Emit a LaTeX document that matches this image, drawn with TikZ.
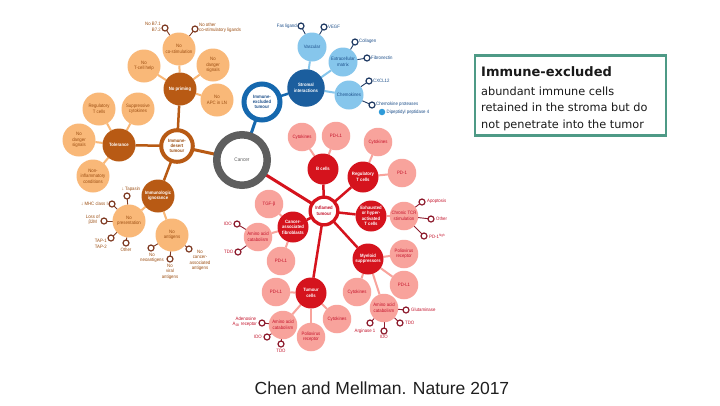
\documentclass[tikz,border=0pt]{standalone}
\usepackage{fontspec}
\setmainfont{Liberation Sans}
\newfontfamily\dfont[FakeStretch=0.9]{Liberation Sans}
\newfontfamily\boxfont{DejaVu Sans}
\usetikzlibrary{backgrounds}
\definecolor{dorange}{HTML}{B85A14}
\definecolor{lorange}{HTML}{F9B878}
\definecolor{torange}{HTML}{9C4E12}
\definecolor{rorange}{HTML}{7E3A22}
\definecolor{dblue}{HTML}{1B5E9E}
\definecolor{eblue}{HTML}{1568AE}
\definecolor{lblue}{HTML}{86C6EC}
\definecolor{tblue}{HTML}{1D4F8A}
\definecolor{rblue}{HTML}{1F3A63}
\definecolor{dotblue}{HTML}{2E9BD9}
\definecolor{dred}{HTML}{D5131D}
\definecolor{lred}{HTML}{F8A39C}
\definecolor{tred}{HTML}{C4122A}
\definecolor{rred}{HTML}{8C1A2C}
\definecolor{cgray}{HTML}{5E5E5E}
\definecolor{boxteal}{HTML}{4E9A86}
\begin{document}
\begin{tikzpicture}[x=1pt,y=-1pt,
  every node/.style={font=\dfont\fontsize{4.8}{5.5}\selectfont},
  base/.style={circle,inner sep=0pt,outer sep=0pt,align=center},
  bfnt/.style={font=\dfont\bfseries\fontsize{4.7}{5.4}\selectfont},
  hubO/.style={base,bfnt,fill=dorange,text=white,minimum size=33},
  leafO/.style={base,fill=lorange,text=torange,minimum size=33},
  hubB/.style={base,bfnt,fill=dblue,text=white,minimum size=37.5},
  leafB/.style={base,fill=lblue,text=tblue,minimum size=29},
  hubR/.style={base,bfnt,fill=dred,text=white,minimum size=31},
  leafR/.style={base,fill=lred,text=tred,minimum size=28.5},
  ringO/.style={base,draw=rorange,line width=1.2,fill=white,minimum size=6},
  ringB/.style={base,draw=rblue,line width=1.2,fill=white,minimum size=6},
  ringR/.style={base,draw=rred,line width=1.2,fill=white,minimum size=6},
  lblO/.style={inner sep=0pt,text=torange},
  lblB/.style={inner sep=0pt,text=tblue},
  lblR/.style={inner sep=0pt,text=tred},
  main/.style={line width=3},
  sub/.style={line width=2.5},
  leafe/.style={line width=2},
  tiny/.style={line width=0.9}
]
\useasboundingbox (0,0) rectangle (720,405);

% ---------- centres ----------
\node[base,draw=cgray,line width=7.5,fill=white,minimum size=50.5,text=cgray,font=\dfont\fontsize{5.2}{6}\selectfont] (cancer) at (242,160) {Cancer};
\node[base,bfnt,draw=dorange,line width=4,fill=white,minimum size=31.6,text=torange] (desert) at (177,146) {Immune-\\desert\\tumour};
\node[base,bfnt,draw=eblue,line width=5,fill=white,minimum size=36,text=tblue] (excl) at (262,102) {Immune-\\excluded\\tumour};
\node[base,bfnt,draw=dred,line width=3.3,fill=white,minimum size=27.7,text=tred] (infl) at (324,211) {Inflamed\\tumour};

% ---------- orange ----------
\node[hubO] (noprim) at (180,89) {No priming};
\node[leafO] (nocost) at (179,49) {No\\co-stimulation};
\node[leafO] (notcell) at (144,66) {No\\T-cell help};
\node[leafO] (nodang1) at (213,65) {No\\danger\\signals};
\node[leafO] (noapc) at (217,100) {No\\APC in LN};
\node[hubO] (toler) at (119,145) {Tolerance};
\node[leafO] (regt) at (99,109) {Regulatory\\T cells};
\node[leafO] (suppc) at (138,109) {Suppressive\\cytokines};
\node[leafO] (nodang2) at (79,140) {No\\danger\\signals};
\node[leafO] (noninf) at (93,176) {Non-\\inflammatory\\conditions};
\node[hubO] (ignor) at (158,196) {Immunologic\\ignorance};
\node[leafO] (nopres) at (129,221) {No\\presentation};
\node[leafO] (noant) at (172,235) {No\\antigens};

\node[ringO] (rb7) at (165,28) {};
\node[ringO] (rcost) at (195,29) {};
\node[ringO] (rtapa) at (127,196) {};
\node[ringO] (rmhc) at (112,204) {};
\node[ringO] (rb2m) at (104,221) {};
\node[ringO] (rtap) at (111,238) {};
\node[ringO] (roth) at (126,243) {};
\node[ringO] (rneo) at (151,248) {};
\node[ringO] (rvir) at (170,259) {};
\node[ringO] (rcaa) at (189,249) {};

\node[lblO,anchor=east,align=right] (lb7) at (161,27) {No B7.1\\B7.2};
\node[lblO,anchor=west,align=left] (lcost) at (199,28) {No other\\co-stimulatory ligands};
\node[lblO,anchor=south] (ltapa) at (131,192) {↓ Tapasin};
\node[lblO,anchor=east] (lmhc) at (108,204) {↓ MHC class I};
\node[lblO,anchor=east,align=center] (lb2m) at (100,220) {Loss of\\β2M};
\node[lblO,anchor=east,align=center] (ltap) at (107,244) {TAP-1\\TAP-2};
\node[lblO,anchor=north] (loth) at (126,248) {Other};
\node[lblO,anchor=north,align=center] (lneo) at (152,252.5) {No\\neoantigens};
\node[lblO,anchor=north,align=center] (lvir) at (170,263.5) {No\\viral\\antigens};
\node[lblO,anchor=north,align=center] (lcaa) at (200,249.5) {No\\cancer-\\associated\\antigens};

% ---------- blue ----------
\node[hubB] (strom) at (306,88) {Stromal\\interactions};
\node[leafB] (vasc) at (312,47) {Vascular};
\node[leafB] (ecm) at (343,62) {Extracellular\\matrix};
\node[leafB] (chem) at (349,95) {Chemokines};

\node[ringB] (rfas) at (301,26) {};
\node[ringB] (rvegf) at (324,27) {};
\node[ringB] (rcoll) at (355,42) {};
\node[ringB] (rfib) at (367,58) {};
\node[ringB] (rcxc) at (369,81) {};
\node[ringB] (rprot) at (372,105) {};
\node[base,fill=dotblue,minimum size=6.5] (ddpp) at (382,112) {};

\node[lblB,anchor=east] (lfas) at (297,26) {Fas ligand};
\node[lblB,anchor=west] (lvegf) at (328,27) {VEGF};
\node[lblB,anchor=west] (lcoll) at (359,41.5) {Collagen};
\node[lblB,anchor=west] (lfib) at (371,57.5) {Fibronectin};
\node[lblB,anchor=west] (lcxc) at (373,81) {CXCL12};
\node[lblB,anchor=west] (lprot) at (376,104.5) {Chemokine proteases};
\node[lblB,anchor=west] (lddp) at (386.5,112) {Dipeptidyl peptidase 4};

% ---------- red ----------
\node[hubR] (bcell) at (323,169) {B cells};
\node[hubR] (treg) at (363,177) {Regulatory\\T cells};
\node[hubR] (exh) at (371,216) {Exhausted\\or hyper-\\activated\\T cells};
\node[hubR] (myel) at (368,259) {Myeloid\\suppressors};
\node[hubR] (tum) at (311,293) {Tumour\\cells};
\node[hubR] (caf) at (293,227) {Cancer-\\associated\\fibroblasts};

\node[leafR] (bcyt) at (302,137) {Cytokines};
\node[leafR] (bpdl) at (336,136) {PD-L1};
\node[leafR] (tcyt) at (378,142) {Cytokines};
\node[leafR] (tpd1) at (402,173) {PD-1};
\node[leafR] (etcr) at (404,216) {Chronic TCR\\stimulation};
\node[leafR] (mpvr) at (404,254) {Poliovirus\\receptor};
\node[leafR] (mpdl) at (404,285) {PD-L1};
\node[leafR] (mcyt) at (357,292) {Cytokines};
\node[leafR] (maa) at (384,308) {Amino acid\\catabolism};
\node[leafR] (tpdl) at (276,292) {PD-L1};
\node[leafR] (taa) at (283,325) {Amino acid\\catabolism};
\node[leafR] (tpvr) at (311,337) {Poliovirus\\receptor};
\node[leafR] (tcy2) at (337,319) {Cytokines};
\node[leafR] (ctgf) at (269,204) {TGF-β};
\node[leafR] (caa) at (258,237) {Amino acid\\catabolism};
\node[leafR] (cpdl) at (281,261) {PD-L1};

\node[ringR] (rapo) at (422,202) {};
\node[ringR] (roth2) at (431,219) {};
\node[ringR] (rpdh) at (424,236) {};
\node[ringR] (rglu) at (406,310) {};
\node[ringR] (rtdo1) at (400,323) {};
\node[ringR] (rido1) at (384,331) {};
\node[ringR] (rarg) at (370,323) {};
\node[ringR] (raden) at (262,323) {};
\node[ringR] (rido2) at (267,337) {};
\node[ringR] (rtdo2) at (281,344) {};
\node[ringR] (rido3) at (237,224) {};
\node[ringR] (rtdo3) at (238,252) {};

\node[lblR,anchor=west] (lapo) at (427,201.5) {Apoptosis};
\node[lblR,anchor=west] (loth2) at (436,219) {Other};
\node[lblR,anchor=west] (lpdh) at (429,236) {PD-1\textsuperscript{high}};
\node[lblR,anchor=west] (lglu) at (411,309.5) {Glutaminase};
\node[lblR,anchor=west] (ltdo1) at (405,323) {TDO};
\node[lblR,anchor=north] (lido1) at (384,335) {IDO};
\node[lblR] (larg) at (365,331) {Arginase 1};
\node[lblR,anchor=east,align=left] (laden) at (257,322) {\hspace*{3pt}Adenosine\\A\textsubscript{2B} receptor};
\node[lblR,anchor=east] (lido2) at (262,337) {IDO};
\node[lblR,anchor=north] (ltdo2) at (281,348.5) {TDO};
\node[lblR,anchor=east] (lido3) at (232,224) {IDO};
\node[lblR,anchor=east] (ltdo3) at (233.5,252) {TDO};

% ---------- text box and caption ----------
\node[draw=boxteal,line width=2.5,minimum width=191,minimum height=80,inner sep=0pt] (box) at (570.5,95.5) {};
\node[anchor=west,inner sep=0pt,text=black!90,font=\boxfont\bfseries\fontsize{13}{15}\selectfont] (title) at (481,72) {Immune-excluded};
\node[anchor=west,inner sep=0pt,align=left,text=black!90,font=\boxfont\fontsize{11.3}{16.7}\selectfont] (body) at (481,108.7) {abundant immune cells\\retained in the stroma but do\\not penetrate into the tumor};
\node[text=black!88,font=\fontsize{17.5}{20}\selectfont] (cap) at (382,388) {Chen and Mellman. Nature 2017};

% ---------- connectors ----------
\begin{pgfonlayer}{background}
\fill[white] (0,0) rectangle (720,405);
\draw[main,dorange] (cancer) -- (desert);
\draw[main,eblue] (cancer) -- (excl);
\draw[main,dred] (cancer) -- (infl);
\foreach \n in {noprim,toler,ignor} \draw[sub,dorange] (desert) -- (\n);
\foreach \n in {nocost,notcell,nodang1,noapc} \draw[leafe,lorange] (noprim) -- (\n);
\foreach \n in {regt,suppc,nodang2,noninf} \draw[leafe,lorange] (toler) -- (\n);
\foreach \n in {nopres,noant} \draw[leafe,lorange] (ignor) -- (\n);
\foreach \n in {rb7,rcost} \draw[tiny,rorange] (nocost) -- (\n);
\foreach \n in {rtapa,rmhc,rb2m,rtap,roth} \draw[tiny,rorange] (nopres) -- (\n);
\foreach \n in {rneo,rvir,rcaa} \draw[tiny,rorange] (noant) -- (\n);
\draw[sub,eblue] (excl) -- (strom);
\foreach \n in {vasc,ecm,chem} \draw[leafe,lblue] (strom) -- (\n);
\foreach \n in {rfas,rvegf} \draw[tiny,rblue] (vasc) -- (\n);
\foreach \n in {rcoll,rfib} \draw[tiny,rblue] (ecm) -- (\n);
\foreach \n in {rcxc,rprot} \draw[tiny,rblue] (chem) -- (\n);
\foreach \n in {bcell,treg,exh,myel,tum,caf} \draw[sub,dred] (infl) -- (\n);
\foreach \n in {bcyt,bpdl} \draw[leafe,lred] (bcell) -- (\n);
\foreach \n in {tcyt,tpd1} \draw[leafe,lred] (treg) -- (\n);
\draw[leafe,lred] (exh) -- (etcr);
\foreach \n in {mpvr,mpdl,mcyt,maa} \draw[leafe,lred] (myel) -- (\n);
\foreach \n in {tpdl,taa,tpvr,tcy2} \draw[leafe,lred] (tum) -- (\n);
\foreach \n in {ctgf,caa,cpdl} \draw[leafe,lred] (caf) -- (\n);
\foreach \n in {rapo,roth2,rpdh} \draw[tiny,rred] (etcr) -- (\n);
\foreach \n in {rglu,rtdo1,rido1,rarg} \draw[tiny,rred] (maa) -- (\n);
\foreach \n in {raden,rido2,rtdo2} \draw[tiny,rred] (taa) -- (\n);
\foreach \n in {rido3,rtdo3} \draw[tiny,rred] (caa) -- (\n);
\end{pgfonlayer}
\end{tikzpicture}
\end{document}
